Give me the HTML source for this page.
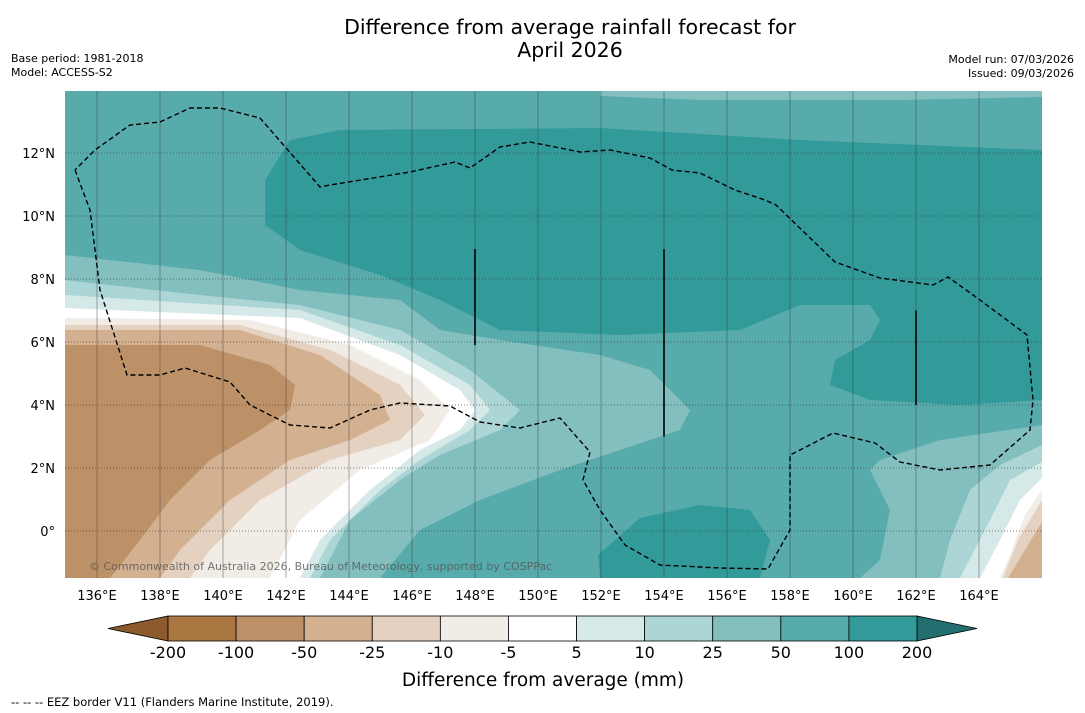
<!DOCTYPE html>
<html><head><meta charset="utf-8"><style>
body{margin:0;background:#fff;font-family:"DejaVu Sans","Liberation Sans",sans-serif;}
svg{display:block}
</style></head><body>
<svg width="1085" height="713" viewBox="0 0 1085 713" font-family="DejaVu Sans, Liberation Sans, sans-serif">
<text x="570" y="34" text-anchor="middle" font-size="20.5">Difference from average rainfall forecast for</text>
<text x="570" y="57" text-anchor="middle" font-size="20.5">April 2026</text>
<text x="11" y="62" font-size="11">Base period: 1981-2018</text>
<text x="11" y="76" font-size="11">Model: ACCESS-S2</text>
<text x="1074" y="63" font-size="11" text-anchor="end">Model run: 07/03/2026</text>
<text x="1074" y="77" font-size="11" text-anchor="end">Issued: 09/03/2026</text>
<defs><clipPath id="mc"><rect x="65" y="91" width="977" height="487"/></clipPath></defs>
<g id="map" clip-path="url(#mc)"></g>
<g id="axes"></g>
<g id="cbar"></g>
<text x="543" y="686" text-anchor="middle" font-size="18.5">Difference from average (mm)</text>
<text x="11" y="706" font-size="11.5">--  --  -- EEZ border V11 (Flanders Marine Institute, 2019).</text>
</svg>
<script>
const levels=["-200","-100","-50","-25","-10","-5","5","10","25","50","100","200"];
const levelColors=["#a97540","#bd9168","#d3b08f","#e5d1bf","#f2ece6","#ffffff","#d5e9e8","#acd5d5","#82bfbe","#58abab","#339a9a"];
const lonTicks=[136,138,140,142,144,146,148,150,152,154,156,158,160,162,164];
const latTicks=[0,2,4,6,8,10,12];
const regions=[
[9,[[65,91],[1042,91],[1042,578],[65,578]]],
[8,[[600,91],[1042,91],[1042,97],[900,100],[700,100],[600,96]]],
[10,[[265,180],[290,140],[340,130],[600,128],[800,140],[1042,150],[1042,400],[960,405],[870,400],[830,385],[835,360],[870,340],[880,320],[870,305],[800,305],[740,330],[620,335],[500,330],[440,300],[380,275],[300,250],[265,225]]],
[10,[[598,555],[640,518],[700,505],[750,510],[770,540],[760,578],[600,578]]],
[8,[[65,255],[200,270],[300,290],[400,300],[440,330],[500,340],[600,355],[650,370],[690,410],[680,430],[620,450],[560,470],[480,500],[420,530],[380,578],[65,578]]],
[8,[[1042,425],[940,440],[880,460],[870,470],[890,510],[880,560],[860,578],[1042,578]]],
[7,[[65,280],[200,295],[300,305],[400,330],[470,370],[520,410],[500,430],[440,455],[400,480],[350,520],[320,578],[65,578]]],
[7,[[1042,445],[1000,465],[970,490],[950,540],[940,578],[1042,578]]],
[6,[[65,295],[300,310],[400,345],[470,385],[490,410],[470,430],[420,460],[380,490],[330,540],[310,578],[65,578]]],
[6,[[1042,462],[1010,480],[990,520],[960,578],[1042,578]]],
[5,[[65,308],[300,318],[400,355],[460,390],[475,410],[460,430],[420,450],[370,490],[320,540],[300,578],[65,578]]],
[5,[[1042,478],[1020,500],[1000,540],[980,578],[1042,578]]],
[4,[[65,318],[250,320],[350,345],[420,380],[450,410],[430,440],[360,470],[300,520],[270,578],[65,578]]],
[4,[[1042,490],[1025,515],[1010,555],[1000,578],[1042,578]]],
[3,[[65,325],[240,325],[330,350],[400,385],[425,415],[400,440],[330,460],[260,500],[210,550],[190,578],[65,578]]],
[3,[[1042,500],[1018,540],[1003,578],[1042,578]]],
[2,[[65,330],[240,330],[320,355],[380,395],[390,420],[350,440],[290,460],[230,500],[180,550],[160,578],[65,578]]],
[2,[[1042,522],[1022,555],[1008,578],[1042,578]]],
[1,[[65,345],[200,345],[270,365],[295,385],[290,410],[260,430],[210,460],[170,500],[140,540],[110,578],[65,578]]]
];
const eez=[[75,170],[90,210],[100,290],[127,375],[160,375],[185,368],[230,382],[250,405],[290,425],[330,428],[370,410],[400,403],[450,406],[480,422],[520,428],[560,418],[575,435],[590,452],[583,480],[600,510],[625,545],[660,565],[720,568],[768,569],[790,530],[790,455],[800,450],[833,433],[875,443],[900,462],[940,470],[990,465],[1030,430],[1033,400],[1027,335],[980,300],[948,277],[933,285],[880,278],[835,262],[776,205],[765,200],[735,190],[700,173],[672,170],[650,158],[610,150],[580,152],[530,142],[500,147],[470,168],[455,162],[410,172],[330,185],[320,187],[260,118],[220,108],[190,108],[160,122],[130,125],[95,150],[75,170]];
const segs=[[148,8.95,5.9],[154,8.95,3.0],[162,7.0,4.0]];
const NS="http://www.w3.org/2000/svg";
const X=lon=>97+(lon-136)*31.5;
const Y=lat=>531-lat*31.5;
function mk(t,a,p){const e=document.createElementNS(NS,t);for(const k in a)e.setAttribute(k,a[k]);p.appendChild(e);return e;}
const map=document.getElementById('map'),axes=document.getElementById('axes'),cb=document.getElementById('cbar');
regions.forEach((r,i)=>{
 const e=mk('polygon',{points:r[1].map(p=>p.join(',')).join(' '),fill:levelColors[r[0]]},map);
 
 
});
lonTicks.forEach(l=>{
 const e=mk('line',{x1:X(l),x2:X(l),y1:91,y2:578,stroke:'#333','stroke-opacity':0.4,'stroke-width':1},map);
 
 
 const t=mk('text',{x:X(l),y:600,'text-anchor':'middle','font-size':13},axes);t.textContent=l+'°E';
 
 
});
latTicks.forEach(l=>{
 const e=mk('line',{x1:65,x2:1042,y1:Y(l),y2:Y(l),stroke:'#333','stroke-opacity':0.6,'stroke-width':1,'stroke-dasharray':'1,2'},map);
 
 
 const t=mk('text',{x:55,y:Y(l)+5,'text-anchor':'end','font-size':13},axes);t.textContent=l===0?'0°':l+'°N';
 
 
});
const ez=mk('polyline',{points:eez.map(p=>p.join(',')).join(' '),fill:'none',stroke:'#000','stroke-width':1.4,'stroke-dasharray':'5,3'},map);


segs.forEach(s=>{
 const e=mk('line',{x1:X(s[0]),x2:X(s[0]),y1:Y(s[1]),y2:Y(s[2]),stroke:'#000','stroke-width':1.6},map);
 
 
});
const cp=mk('text',{x:89,y:570,'font-size':11,fill:'#555','fill-opacity':0.8},map);cp.textContent='© Commonwealth of Australia 2026, Bureau of Meteorology, supported by COSPPac';


const x0=168,x1=917,bw=(x1-x0)/levelColors.length,cy=616,ch=25;
const lt=mk('polygon',{points:`108,${cy+ch/2} ${x0},${cy} ${x0},${cy+ch}`,fill:'#8c5a2c',stroke:'#000','stroke-width':0.8},cb);


const rt=mk('polygon',{points:`977,${cy+ch/2} ${x1},${cy} ${x1},${cy+ch}`,fill:'#236f6f',stroke:'#000','stroke-width':0.8},cb);


levelColors.forEach((c,i)=>{
 const e=mk('rect',{x:x0+i*bw,y:cy,width:bw,height:ch,fill:c,stroke:'#000','stroke-width':0.8},cb);
 
 
});
levels.forEach((l,i)=>{
 const t=mk('text',{x:x0+i*bw,y:658,'text-anchor':'middle','font-size':16},cb);t.textContent=l;
 
 
});
</script>
</body></html>
